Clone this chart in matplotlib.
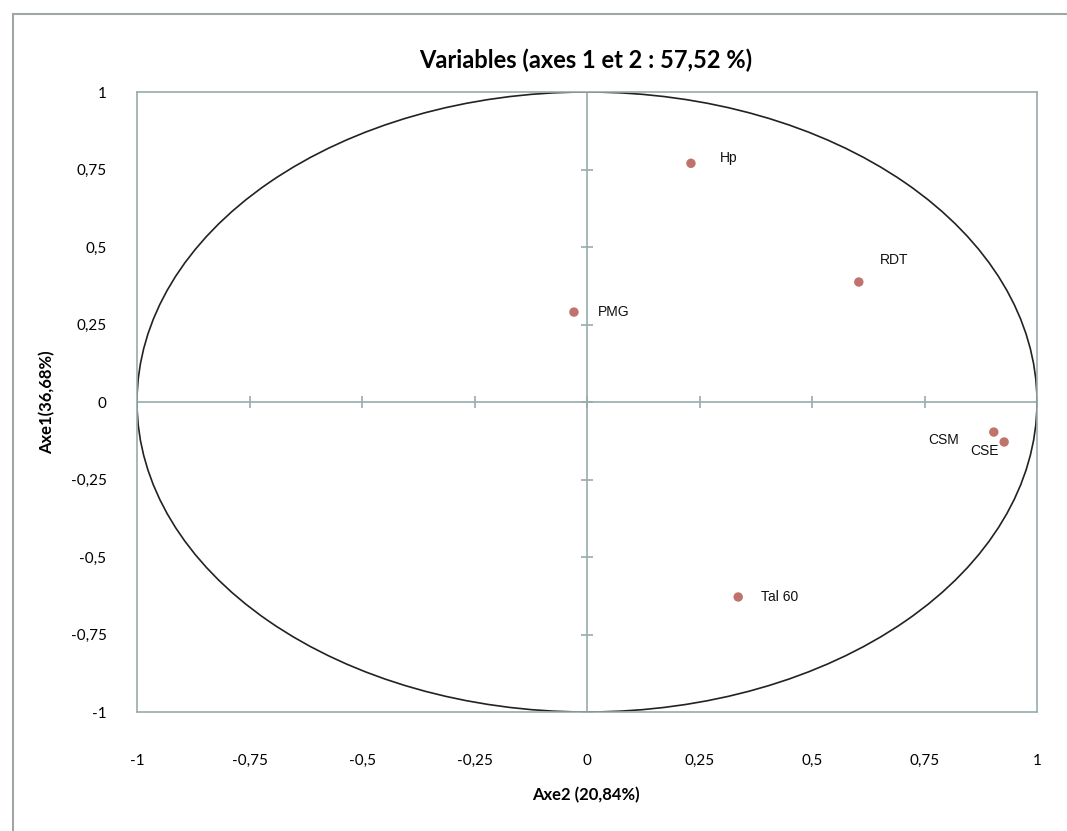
import numpy as np
import matplotlib
matplotlib.use("Agg")
import matplotlib.pyplot as plt
from matplotlib.patches import Ellipse, Rectangle

# variable coordinates on the correlation circle
labels = ["Hp", "RDT", "PMG", "CSM", "CSE", "Tal 60"]
axe2 = [0.231, 0.604, -0.029, 0.904, 0.927, 0.336]
axe1 = [0.770, 0.387, 0.290, -0.097, -0.129, -0.629]

ticks = [-1, -0.75, -0.5, -0.25, 0, 0.25, 0.5, 0.75, 1]
tick_labels = ["-1", "-0,75", "-0,5", "-0,25", "0", "0,25", "0,5", "0,75", "1"]

title = "Variables (axes 1 et 2 : 57,52 %)"
xlabel = "Axe2 (20,84%)"
ylabel = "Axe1(36,68%)"

narrow = ["Liberation Sans Narrow", "Lato", "DejaVu Sans"]
grey = "#98acab"

fig = plt.figure(figsize=(10.67, 8.31), dpi=100)
# outer chart border (Excel chart area)
fig.patches.append(Rectangle((13 / 1067, -0.05), 1.1, 1 - 14 / 831 + 0.05,
                             transform=fig.transFigure, fill=False,
                             edgecolor="#a0a6a6", linewidth=1.5))

ax = fig.add_axes([137 / 1067, 1 - 712 / 831, 900 / 1067, 620 / 831])
ax.set_xlim(-1, 1)
ax.set_ylim(-1, 1)
for s in ax.spines.values():
    s.set_color(grey)
    s.set_linewidth(1.2)

# zero axes with cross tick marks
ax.axhline(0, color=grey, lw=1.2, zorder=1)
ax.axvline(0, color=grey, lw=1.2, zorder=1)
ax.plot(ticks, [0] * len(ticks), ls="none", marker="|", ms=9, color=grey, mew=1.2, zorder=1)
ax.plot([0] * len(ticks), ticks, ls="none", marker="_", ms=9, color=grey, mew=1.2, zorder=1)

# correlation circle
ax.add_patch(Ellipse((0, 0), 2, 2, fill=False, edgecolor="#222222", lw=1.2, zorder=2))

ax.scatter(axe2, axe1, s=46, color="#bf736c", edgecolors="none", zorder=3)
# label offsets in pixels
offsets = {"Hp": (38, 5), "RDT": (35, 22), "PMG": (40, 0), "CSM": (-50, -8),
           "CSE": (-20, -9), "Tal 60": (41, 0)}
for lab, x, y in zip(labels, axe2, axe1):
    dx, dy = offsets[lab]
    ax.annotate(lab, (x, y), xytext=(dx, dy), textcoords="offset pixels",
                ha="center", va="center", fontsize=10,
                family=["Liberation Sans", "DejaVu Sans"], color="#111111")

ax.set_xticks(ticks)
ax.set_xticklabels(tick_labels, family=narrow, fontsize=11)
ax.set_yticks(ticks)
ax.set_yticklabels(tick_labels, family=narrow, fontsize=11)
ax.tick_params(length=0, pad=22)
ax.tick_params(axis="x", pad=30)

fig.text(586 / 1067, 1 - 60 / 831, title, ha="center", va="center",
         fontsize=17, fontweight="bold", family=narrow)
fig.text(586 / 1067, 1 - 795 / 831, xlabel, ha="center", va="center",
         fontsize=12, fontweight="bold", family=narrow)
fig.text(47 / 1067, 1 - 402 / 831, ylabel, ha="center", va="center",
         rotation=90, fontsize=12, fontweight="bold", family=narrow)

fig.savefig("out.png", dpi=100, facecolor="white")
